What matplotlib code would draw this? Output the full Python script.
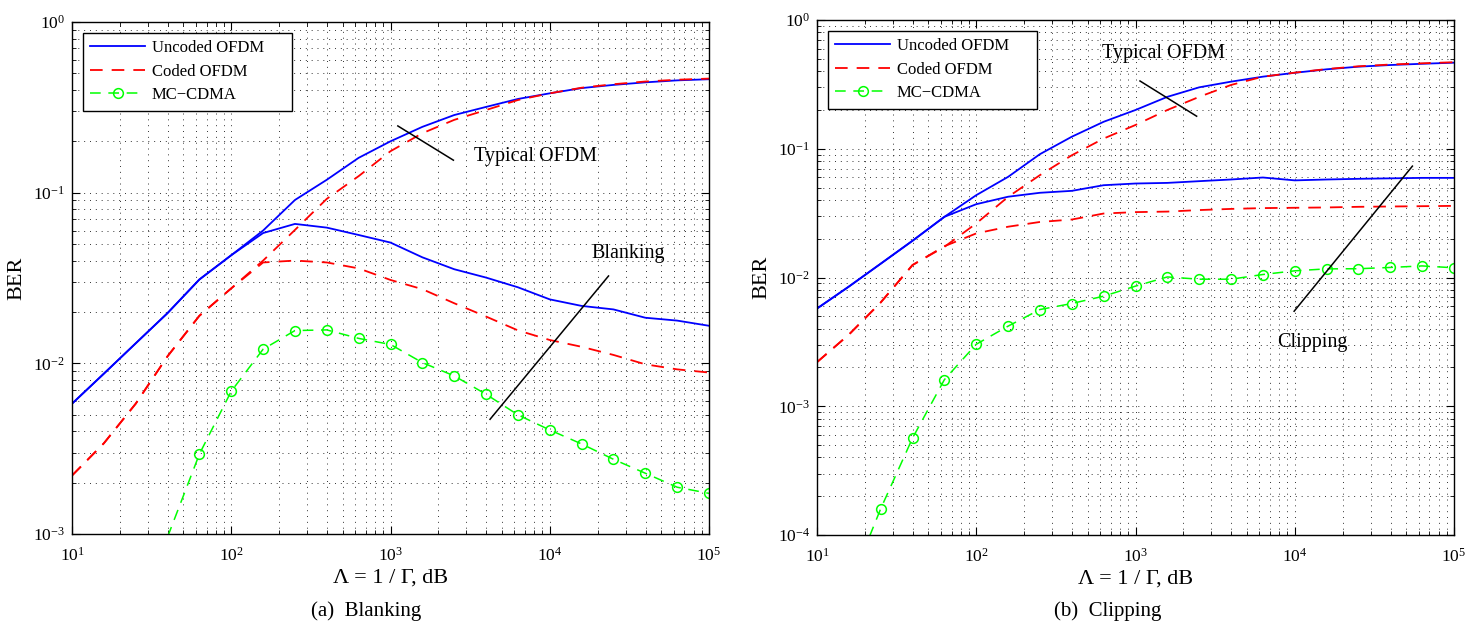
import numpy as np
import matplotlib
matplotlib.use("Agg")
import matplotlib.pyplot as plt

plt.rcParams['font.family'] = ['Liberation Serif', 'DejaVu Serif']
plt.rcParams['mathtext.fontset'] = 'custom'
plt.rcParams['mathtext.rm'] = 'Liberation Serif'
plt.rcParams['mathtext.it'] = 'Liberation Serif:italic'

# ---------------- data ----------------
lam = [10, 15.85, 25.12, 39.81, 63.10, 100, 158.5, 251.2, 398.1, 631.0, 1000,
       1585, 2512, 3981, 6310, 10000, 15850, 25120, 39810, 63100, 100000]

# (a) Blanking
a_unc_typ = [0.0058, 0.0087, 0.0131, 0.0197, 0.031, 0.043, 0.060, 0.0906, 0.119, 0.16, 0.20,
             0.243, 0.285, 0.318, 0.354, 0.382, 0.41, 0.428, 0.443, 0.455, 0.462]
a_cod_typ = [0.0022, 0.0034, 0.0058, 0.011, 0.019, 0.0275, 0.040, 0.0605, 0.092, 0.125, 0.175,
             0.223, 0.267, 0.305, 0.349, 0.382, 0.412, 0.432, 0.448, 0.459, 0.466]
a_unc_blk = [0.0058, 0.0087, 0.0131, 0.0197, 0.031, 0.043, 0.058, 0.0656, 0.0624, 0.0565, 0.051,
             0.0418, 0.0356, 0.0318, 0.0279, 0.0237, 0.0217, 0.0207, 0.0185, 0.0178, 0.0166]
a_cod_blk = [0.0022, 0.0034, 0.0058, 0.011, 0.019, 0.0275, 0.039, 0.040, 0.039, 0.036, 0.0308,
             0.0272, 0.0225, 0.0188, 0.0156, 0.0137, 0.0125, 0.0112, 0.00987, 0.00922, 0.00883]
a_mc_lam = [39.81, 63.10, 100, 158.5, 251.2, 398.1, 631.0, 1000, 1585, 2512, 3981, 6310,
            10000, 15850, 25120, 39810, 63100, 100000]
a_mc = [0.00096, 0.00294, 0.00686, 0.0121, 0.01556, 0.0157, 0.0140, 0.0129, 0.0101, 0.00844,
        0.00659, 0.00499, 0.00407, 0.00337, 0.00274, 0.00227, 0.00188, 0.00173]

# (b) Clipping
b_unc_typ = [0.00574, 0.0085, 0.0128, 0.0193, 0.0296, 0.0436, 0.0605, 0.0908, 0.124, 0.162, 0.20,
             0.253, 0.30, 0.332, 0.363, 0.389, 0.414, 0.434, 0.447, 0.457, 0.466]
b_cod_typ = [0.0022, 0.0036, 0.0064, 0.0125, 0.0173, 0.0263, 0.0423, 0.0624, 0.089, 0.12, 0.153,
             0.20, 0.253, 0.313, 0.363, 0.39, 0.416, 0.437, 0.451, 0.461, 0.47]
b_unc_clp = [0.00574, 0.0085, 0.0128, 0.0193, 0.0296, 0.0371, 0.0424, 0.0455, 0.0471, 0.0521, 0.0537,
             0.0543, 0.056, 0.0577, 0.0598, 0.0568, 0.0577, 0.0584, 0.0589, 0.0594, 0.0594]
b_cod_clp = [0.0022, 0.0036, 0.0064, 0.0125, 0.0175, 0.022, 0.0248, 0.027, 0.0282, 0.0314, 0.0322,
             0.0325, 0.0334, 0.0341, 0.0346, 0.0348, 0.035, 0.0354, 0.0356, 0.0358, 0.036]
b_mc_lam = [15.85, 25.12, 39.81, 63.10, 100, 158.5, 251.2, 398.1, 631.0, 1000, 1585, 2512, 3981,
            6310, 10000, 15850, 25120, 39810, 63100, 100000]
b_mc = [3.9e-5, 1.6e-4, 5.66e-4, 1.61e-3, 3.03e-3, 4.19e-3, 5.64e-3, 6.28e-3, 7.16e-3, 8.57e-3,
        0.0101, 0.0097, 0.0097, 0.01055, 0.01127, 0.01167, 0.0117, 0.01197, 0.0123, 0.0119]

legend_labels = ['Uncoded OFDM', 'Coded OFDM', 'MC\u2212CDMA']
xlabel = '\u039b = 1 / \u0393, dB'
ylabel = 'BER'

# ---------------- figure ----------------
fig = plt.figure(figsize=(14.77, 6.25), dpi=100)
axA = fig.add_axes([72 / 1477, 1 - 534 / 625, 637 / 1477, 512 / 625])
axB = fig.add_axes([817 / 1477, 1 - 535 / 625, 637 / 1477, 515 / 625])

BLUE = (0, 0, 1)
RED = (1, 0, 0)
GREEN = (0, 1, 0)
DASH = (0, (7, 5))


def style_axes(ax, ylo):
    ax.set_xscale('log')
    ax.set_yscale('log')
    ax.set_xlim(10, 1e5)
    ax.set_ylim(ylo, 1)
    ax.grid(True, which='both', color='k', alpha=0.8, lw=0.7, ls=(0, (1, 5)))
    ax.tick_params(which='both', direction='in', top=True, right=True, labelsize=12.5)
    ax.tick_params(axis='x', which='major', pad=9)
    ax.tick_params(axis='y', which='major', pad=5)
    ax.tick_params(which='major', length=6, width=0.8)
    ax.tick_params(which='minor', length=3, width=0.6)
    for s in ax.spines.values():
        s.set_linewidth(1.0)
    ax.set_xlabel(xlabel, fontsize=16, labelpad=3)
    ax.set_ylabel(ylabel, fontsize=16, va='center')
    ax.yaxis.set_label_coords(-0.087, 0.5)
    ax.minorticks_on()


def plot_panel(ax, unc_typ, cod_typ, unc_x, cod_x, mc_x, mc_y, ylo, axh):
    l1, = ax.plot(lam, unc_typ, color=BLUE, lw=1.3)
    ax.plot(lam, unc_x, color=BLUE, lw=1.3)
    l2, = ax.plot(lam, cod_typ, color=RED, lw=1.3, ls=DASH)
    ax.plot(lam, cod_x, color=RED, lw=1.3, ls=DASH)
    show = [i for i, v in enumerate(mc_y) if v >= ylo]
    l3, = ax.plot(mc_x, mc_y, color=GREEN, lw=1.1, ls=DASH, marker='o', ms=7,
                  mfc='none', mec=GREEN, mew=1.1, markevery=show)
    x0 = 10.7 / 637
    w = 209 / 637
    top = 1 - 10.7 / axh
    leg = ax.legend([l1, l2, l3], legend_labels, loc='upper left', fontsize=12,
                    bbox_to_anchor=(x0, top - 0.2, w, 0.2), mode='expand',
                    handlelength=3.3, handletextpad=0.4, borderaxespad=0.0,
                    borderpad=0.45, labelspacing=0.45, fancybox=False,
                    framealpha=1, edgecolor='k')
    leg.get_frame().set_linewidth(1.0)


plot_panel(axA, a_unc_typ, a_cod_typ, a_unc_blk, a_cod_blk, a_mc_lam, a_mc, 1e-3, 512)
plot_panel(axB, b_unc_typ, b_cod_typ, b_unc_clp, b_cod_clp, b_mc_lam, b_mc, 1e-4, 515)
style_axes(axA, 1e-3)
style_axes(axB, 1e-4)

# annotations (a)
axA.plot([1112, 2483], [0.246, 0.155], color='k', lw=1.1)
axA.text(3365, 0.162, 'Typical OFDM', fontsize=14.5, ha='left', va='center')
axA.plot([4217, 23390], [0.0047, 0.0325], color='k', lw=1.1)
axA.text(31040, 0.044, 'Blanking', fontsize=14.5, ha='center', va='center')

# annotations (b)
axB.plot([1067, 2420], [0.336, 0.179], color='k', lw=1.1)
axB.text(614, 0.554, 'Typical OFDM', fontsize=14.5, ha='left', va='center')
axB.plot([9910, 54800], [0.00547, 0.0733], color='k', lw=1.1)
axB.text(12880, 0.00315, 'Clipping', fontsize=14.5, ha='center', va='center')

# captions
fig.text(366 / 1477, 1 - 611 / 625, '(a)  Blanking', fontsize=15, ha='center', va='center')
fig.text(1108 / 1477, 1 - 611 / 625, '(b)  Clipping', fontsize=15, ha='center', va='center')

fig.savefig('out.png', dpi=100)
